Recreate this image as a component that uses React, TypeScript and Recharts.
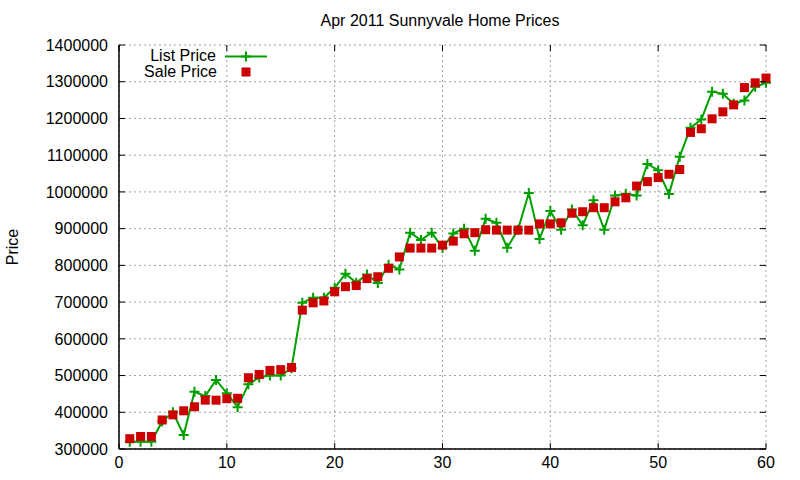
import React from 'react';
import {
  ComposedChart,
  Line,
  Scatter,
  XAxis,
  YAxis,
  CartesianGrid,
  Legend,
} from 'recharts';

const months = [
  1, 2, 3, 4, 5, 6, 7, 8, 9, 10, 11, 12, 13, 14, 15, 16, 17, 18, 19, 20,
  21, 22, 23, 24, 25, 26, 27, 28, 29, 30, 31, 32, 33, 34, 35, 36, 37, 38, 39, 40,
  41, 42, 43, 44, 45, 46, 47, 48, 49, 50, 51, 52, 53, 54, 55, 56, 57, 58, 59, 60,
];

const listPrice = [
  320000, 320000, 320000, 375000, 400000, 338000, 456000, 444000, 488000, 452000,
  414000, 476000, 495000, 500000, 500000, 520000, 698000, 712000, 712000, 739000,
  777000, 753000, 775000, 752000, 802000, 789000, 889000, 869000, 889000, 847000,
  887000, 900000, 840000, 927000, 916000, 848000, 897000, 997000, 872000, 948000,
  897000, 952000, 909000, 977000, 897000, 990000, 995000, 990000, 1076000, 1059000,
  994000, 1096000, 1175000, 1197000, 1273000, 1267000, 1240000, 1249000, 1286000, 1297000,
];

const salePrice = [
  328000, 334000, 334000, 379000, 393000, 404000, 415000, 433000, 433000, 437000,
  438000, 494000, 503000, 514000, 516000, 522000, 678000, 698000, 703000, 728000,
  742000, 745000, 764000, 769000, 792000, 823000, 847000, 847000, 847000, 855000,
  866000, 886000, 889000, 897000, 896000, 896000, 896000, 896000, 913000, 913000,
  916000, 942000, 946000, 957000, 957000, 973000, 984000, 1016000, 1028000, 1039000,
  1048000, 1061000, 1162000, 1172000, 1199000, 1218000, 1237000, 1284000, 1297000, 1310000,
];

const xTicks = [0, 10, 20, 30, 40, 50, 60];
const yTicks = [
  300000, 400000, 500000, 600000, 700000, 800000, 900000, 1000000, 1100000, 1200000,
  1300000, 1400000,
];

const data = months.map((m, i) => ({ m, list: listPrice[i], sale: salePrice[i] }));

const GREEN = '#00a000';
const RED = '#cc0000';
const FONT = '"Liberation Sans", Arial, Helvetica, sans-serif';
const PLOT_L = 119;
const PLOT_R = 766;
const PLOT_T = 45;
const PLOT_B = 449;
const TICK = 6;

const YTick = (props: any) => {
  const { y, payload } = props;
  return (
    <g>
      <line x1={PLOT_L} x2={PLOT_L + TICK} y1={y} y2={y} stroke="#000" strokeWidth={1} />
      <line x1={PLOT_R - TICK} x2={PLOT_R} y1={y} y2={y} stroke="#000" strokeWidth={1} />
      <text
        x={PLOT_L - 11}
        y={y}
        textAnchor="end"
        dy="0.36em"
        fontSize={16}
        fontFamily={FONT}
        fill="#000"
      >
        {payload.value}
      </text>
    </g>
  );
};

const XTick = (props: any) => {
  const { x, payload } = props;
  return (
    <g>
      <line x1={x} x2={x} y1={PLOT_B - TICK} y2={PLOT_B} stroke="#000" strokeWidth={1} />
      <line x1={x} x2={x} y1={PLOT_T} y2={PLOT_T + TICK} stroke="#000" strokeWidth={1} />
      <text
        x={x}
        y={PLOT_B + 7}
        textAnchor="middle"
        dy="0.72em"
        fontSize={16}
        fontFamily={FONT}
        fill="#000"
      >
        {payload.value}
      </text>
    </g>
  );
};

const PlusDot = (props: any) => {
  const { cx, cy, index } = props;
  if (cx == null || cy == null) return <g key={index} />;
  return (
    <path
      key={index}
      d={`M${cx - 5},${cy}H${cx + 5}M${cx},${cy - 5}V${cy + 5}`}
      stroke={GREEN}
      strokeWidth={2}
      fill="none"
    />
  );
};

const SquareShape = (props: any) => {
  const { cx, cy } = props;
  return <rect x={cx - 4.5} y={cy - 4.5} width={9} height={9} fill={RED} />;
};

const LegendContent = () => (
  <svg width={300} height={90} style={{ overflow: 'visible' }}>
    <text x={216} y={61} textAnchor="end" fontSize={16} fontFamily={FONT} fill="#000">
      List Price
    </text>
    <line x1={225} x2={267} y1={56.5} y2={56.5} stroke={GREEN} strokeWidth={2} />
    <path d="M241,56.5H251M246,51.5V61.5" stroke={GREEN} strokeWidth={2} fill="none" />
    <text x={217} y={77} textAnchor="end" fontSize={16} fontFamily={FONT} fill="#000">
      Sale Price
    </text>
    <rect x={241.5} y={67.5} width={9} height={9} fill={RED} />
  </svg>
);

const PriceLabel = (props: any) => {
  const vb = props.viewBox || { y: PLOT_T, height: PLOT_B - PLOT_T };
  const cy = vb.y + vb.height / 2;
  return (
    <text
      x={12}
      y={cy}
      transform={`rotate(-90, 12, ${cy})`}
      textAnchor="middle"
      dy="0.36em"
      fontSize={16}
      fontFamily={FONT}
      fill="#000"
    >
      Price
    </text>
  );
};

export default function App() {
  return (
    <div style={{ position: 'absolute', left: 0, top: 0, width: 800, height: 480, background: '#fff' }}>
      <ComposedChart
        width={800}
        height={480}
        data={data}
        margin={{ top: PLOT_T, right: 800 - PLOT_R, bottom: 0, left: 0 }}
      >
        <CartesianGrid stroke="#a0a0a0" strokeDasharray="2 3" />
        <XAxis
          dataKey="m"
          type="number"
          domain={[0, 60]}
          ticks={xTicks}
          height={480 - PLOT_B}
          axisLine={{ stroke: '#000', strokeWidth: 1.5 }}
          tickLine={false}
          tick={<XTick />}
          interval={0}
        />
        <XAxis
          xAxisId="top"
          orientation="top"
          dataKey="m"
          type="number"
          domain={[0, 60]}
          height={0}
          axisLine={{ stroke: '#000', strokeWidth: 1.5 }}
          tick={false}
          tickLine={false}
        />
        <YAxis
          type="number"
          domain={[300000, 1400000]}
          ticks={yTicks}
          width={PLOT_L}
          axisLine={{ stroke: '#000', strokeWidth: 1.5 }}
          tickLine={false}
          tick={<YTick />}
          interval={0}
          label={<PriceLabel />}
        />
        <YAxis
          yAxisId="right"
          orientation="right"
          type="number"
          domain={[300000, 1400000]}
          width={0}
          axisLine={{ stroke: '#000', strokeWidth: 1.5 }}
          tick={false}
          tickLine={false}
        />
        <Legend
          content={<LegendContent />}
          wrapperStyle={{ position: 'absolute', left: 0, top: 0, width: 0, height: 0, overflow: 'visible' }}
        />
        <Line
          dataKey="list"
          name="List Price"
          stroke={GREEN}
          strokeWidth={2}
          dot={<PlusDot />}
          activeDot={false}
          isAnimationActive={false}
        />
        <Scatter
          dataKey="sale"
          name="Sale Price"
          fill={RED}
          shape={<SquareShape />}
          isAnimationActive={false}
        />
        <text x={440} y={26} textAnchor="middle" fontSize={16} fontFamily={FONT} fill="#000">
          Apr 2011 Sunnyvale Home Prices
        </text>
      </ComposedChart>
    </div>
  );
}
